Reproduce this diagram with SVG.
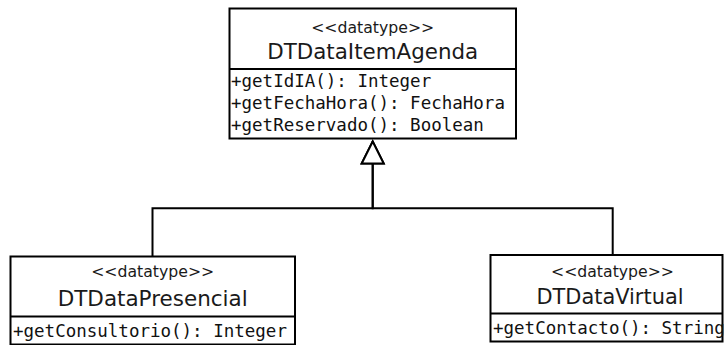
<svg xmlns="http://www.w3.org/2000/svg" width="726" height="345" viewBox="0 0 726 345">
  <style>
    .box { fill: #ffffff; stroke: #000000; stroke-width: 2; }
    .sep { stroke: #000000; stroke-width: 2; }
    .stereo { font-family: "DejaVu Sans", "Liberation Sans", sans-serif; font-size: 15px; fill: #1a1a1a; text-anchor: middle; }
    .name { font-family: "DejaVu Sans", "Liberation Sans", sans-serif; font-size: 21px; fill: #1a1a1a; text-anchor: middle; }
    .op { font-family: "DejaVu Sans Mono", "Liberation Mono", monospace; font-size: 17.5px; fill: #111111; }
    .edge { fill: none; stroke: #000000; stroke-width: 2; }
  </style>
  <defs>
    <marker id="gen" viewBox="0 0 22 22" refX="22" refY="11" markerWidth="22" markerHeight="22" markerUnits="userSpaceOnUse" orient="auto" overflow="visible">
      <path d="M0,0 L22,11 L0,22 Z" fill="#ffffff" stroke="#000000" stroke-width="2"/>
    </marker>
  </defs>
  <rect width="726" height="345" fill="#ffffff"/>

  <!-- generalizations -->
  <g id="connectors">
    <path class="edge" d="M152.5,256.5 V208.3 H372.7 V141.5" marker-end="url(#gen)"/>
    <path class="edge" d="M612.7,255 V208.3 H372.7 V141.5" marker-end="url(#gen)"/>
  </g>

  <g id="DTDataItemAgenda">
    <rect class="box" x="229.5" y="8.5" width="286.5" height="130"/>
    <line class="sep" x1="229.5" y1="69" x2="516" y2="69"/>
    <text class="stereo" x="372.7" y="32.5" textLength="123" lengthAdjust="spacingAndGlyphs">&lt;&lt;datatype&gt;&gt;</text>
    <text class="name" x="372.7" y="58.5" textLength="211" lengthAdjust="spacingAndGlyphs">DTDataItemAgenda</text>
    <text class="op" x="231" y="86.5">+getIdIA(): Integer</text>
    <text class="op" x="231" y="108.5">+getFechaHora(): FechaHora</text>
    <text class="op" x="231" y="130.5">+getReservado(): Boolean</text>
  </g>

  <g id="DTDataPresencial">
    <rect class="box" x="10.5" y="256.5" width="284.5" height="88"/>
    <line class="sep" x1="10.5" y1="316.5" x2="295" y2="316.5"/>
    <text class="stereo" x="152.7" y="277" textLength="123" lengthAdjust="spacingAndGlyphs">&lt;&lt;datatype&gt;&gt;</text>
    <text class="name" x="152.7" y="305.5" textLength="190" lengthAdjust="spacingAndGlyphs">DTDataPresencial</text>
    <text class="op" x="13" y="337">+getConsultorio(): Integer</text>
  </g>

  <g id="DTDataVirtual">
    <rect class="box" x="490.5" y="255" width="232" height="86.5"/>
    <line class="sep" x1="490.5" y1="313.5" x2="722.5" y2="313.5"/>
    <text class="stereo" x="612.5" y="276.5" textLength="123" lengthAdjust="spacingAndGlyphs">&lt;&lt;datatype&gt;&gt;</text>
    <text class="name" x="610" y="303.5" textLength="147" lengthAdjust="spacingAndGlyphs">DTDataVirtual</text>
    <text class="op" x="493" y="334">+getContacto(): String</text>
  </g>
</svg>
